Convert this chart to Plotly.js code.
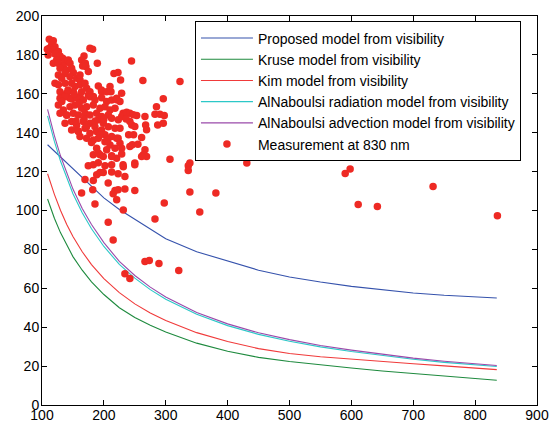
<!DOCTYPE html>
<html><head><meta charset="utf-8">
<script src="https://cdn.plot.ly/plotly-3.0.1.min.js"></script>
<style>html,body{margin:0;padding:0;background:#fff;}#chart{width:557px;height:423px;}</style>
</head><body><div id="chart"></div>
<script>
// Visibility grid (m) for model curves
const visibility = [109,120,130,140,150,165,180,200,225,250,275,300,350,400,450,500,550,600,650,700,750,800,835];
const proposed  = [133.8,130.5,127.5,124.5,121.5,117,112.5,106.5,100.5,95.5,90.5,85.5,78.8,74,69.3,65.8,63.2,61,59.2,57.6,56.4,55.5,55];
const kruse     = [105.9,96,88.5,82,76.3,69.3,63.3,56.8,50,45,41,37.5,31.8,27.6,24.5,22.4,20.6,19,17.5,16.2,14.9,13.6,12.7];
const kim       = [118.9,108.3,100,92.8,86.6,78.8,72.2,65,57.8,52,47.3,43.4,37.2,32.6,29,26.5,24.8,23.5,22.3,21.2,20.1,19,18.2];
const radiation = [148.7,135.5,125.3,116.4,108.6,98.8,90.6,81.5,72.3,65.2,59.3,54.4,46.6,40.8,36.3,32.8,29.9,27.5,25.4,23.5,21.9,20.5,19.8];
const advection = [152,138.5,128,119,111,101,92.8,83.5,73.8,66.6,60.6,55.5,47.6,41.7,37.1,33.6,30.6,28.2,26,24.1,22.5,21,20.3];

// Measurements at 830 nm
const measX = [111.8,118.3,115.6,121.0,111.8,118.3,126.4,121.0,129.1,133.4,123.7,118.3,126.4,137.2,142.5,145.2,134.5,129.1,139.8,147.9,150.6,137.2,126.4,131.8,145.2,156.0,161.4,121.0,126.4,137.2,147.9,153.3,161.4,169.5,172.2,177.5,164.1,150.6,139.8,129.1,177.5,181.8,167.9,164.1,170.0,165.7,189.4,216.3,222.8,211.5,196.4,183.0,174.9,161.4,145.2,134.5,209.9,108.6,110,
227,244.7,263,323,296,220.7,161.4,171,174.9,191,196,204.5,228.7,
129.1,137.2,147.9,156.0,166.8,177.5,185.6,196.4,204.5,212.5,220.6,126.4,134.5,145.2,153.3,164.1,172.2,182.9,193.7,201.8,209.9,218.0,129.1,139.9,150.6,158.7,169.5,177.5,188.3,196.4,207.2,212.5,223.3,137.2,147.9,156.0,166.8,177.5,185.6,191.0,199.1,207.2,218.0,147.9,158.7,169.5,177.5,188.3,196.4,201.8,212.5,220.6,161.4,172.2,182.9,191.0,201.8,209.9,188.3,204.5,218.0,212.5,220.6,193.7,
285,282.6,290.6,297.6,287,296,266.4,267.5,269,261,246,242,226,223,226,228.8,266.4,263.7,269,261,306.8,250,231,339,220.7,226,231,228.8,236.8,242,247.5,253,242,245,250,
174.8,182.9,191,201.8,212.6,231.4,250,336.4,336.4,188.4,193.7,199,212.6,223,234,169.5,182.9,207,164,182,218,215,223,234,250,220.7,185.6,231.4,297.6,339,355,282.6,207,215,182.9,191,199,212.6,228.8,381,431,
234,242,266.4,273.4,289,321,
590,598,732,611,642,836,
142,152,160,168,140,155,132,158,172,180,186,194,200,206,240,236,248,255];
const measY = [188.0,187.3,185.1,184.2,183.4,182.5,181.7,180.5,179.4,178.3,177.4,175.7,175.7,176.5,177.4,175.7,174.0,173.1,172.3,173.1,170.9,170.5,169.7,168.0,168.8,168.0,167.1,165.4,164.6,165.4,165.4,163.7,164.6,165.4,162.8,161.1,161.1,161.1,160.3,161.1,183.4,182.9,179.4,177.4,175.7,174.3,175.7,170.5,170.9,161.1,161.1,158.6,159.4,158.6,157.7,158.6,163.7,182.9,180,
167.1,176.9,166.8,166.3,157.4,157.2,169.7,174,171.5,164,162,161,160.3,
157.7,158.5,157.3,158.0,156.8,158.5,156.8,158.0,156.0,156.8,157.7,154.3,151.7,153.4,154.3,152.6,153.4,154.3,152.6,153.4,151.7,152.6,150.0,149.1,150.0,149.1,150.0,149.1,150.0,148.3,149.1,147.4,146.6,144.9,145.7,144.0,145.7,144.9,143.1,146.6,144.9,143.1,142.3,141.4,140.6,142.3,139.7,140.6,141.4,138.9,138.0,137.1,138.0,137.1,136.3,137.1,135.4,133.7,132.0,131.2,132.0,127.7,126.9,128.6,
153.4,149.5,149.5,148.8,144,144.9,148.3,144,141.5,137.5,133.8,132.9,142.3,137.2,134.6,132,131.2,128.6,127.8,127.8,126.4,124.4,123.5,124.4,156.9,156,150,148.3,150.5,150,149.2,148.8,145.7,144,143.2,
123,123.5,124.5,123,123.5,122.5,123.5,123,120.6,118.4,119.5,119.5,119.8,118.9,117.5,116,115.4,114.1,109,110.7,110.3,108.6,110.7,111,110.3,105.5,103.4,100.2,103.8,109.5,99.2,95.6,93.9,84.8,128.6,129.5,127.8,128.1,129.1,109,124.4,
67.5,65.1,73.8,74.3,72.7,69.2,
119,121.3,112.4,103.1,102.1,97.3,
162,160,155,147,149,146,156,141,143,135,146,139,147,136,139,147,139,134];

const names = ['Proposed model from visibility','Kruse model from visibility','Kim model from visibility','AlNaboulsi radiation model from visibility','AlNaboulsi advection model from visibility'];
const series = [proposed, kruse, kim, radiation, advection];
const colors = ['#3552ac','#1e8a3e','#f03a3a','#2cc8c8','#9a4aaa'];

const traces = series.map((s,i)=>({
  x: visibility, y: s, type:'scatter', mode:'lines', name: names[i],
  line:{color: colors[i], width:1.1}
}));
traces.push({x: measX, y: measY, type:'scatter', mode:'markers', name:'Measurement at 830 nm',
  marker:{color:'#ee2a24', size:7.5}});

const fontFam = 'Arial, "Liberation Sans", sans-serif';
const axisCommon = {showline:true, linecolor:'#000', linewidth:1, mirror:'ticks', ticks:'inside', ticklen:5,
  tickcolor:'#000', showgrid:false, zeroline:false, tickfont:{family:fontFam, size:14, color:'#000'}};
const layout = {
  width:557, height:423,
  margin:{l:42, r:20, t:16, b:18},
  paper_bgcolor:'#fff', plot_bgcolor:'#fff',
  showlegend:true,
  legend:{x:0.309, y:0.986, xanchor:'left', yanchor:'top', bgcolor:'#fff', bordercolor:'#000', borderwidth:1,
    font:{family:fontFam, size:14, color:'#000'}, tracegroupgap:0, itemwidth:52},
  xaxis: Object.assign({range:[100,900], dtick:100, tick0:100, ticklabelstandoff:-3}, axisCommon),
  yaxis: Object.assign({range:[0,200], dtick:20, tick0:0, ticklabelstandoff:-1}, axisCommon)
};
Plotly.newPlot('chart', traces, layout, {displayModeBar:false, staticPlot:true});
</script></body></html>
